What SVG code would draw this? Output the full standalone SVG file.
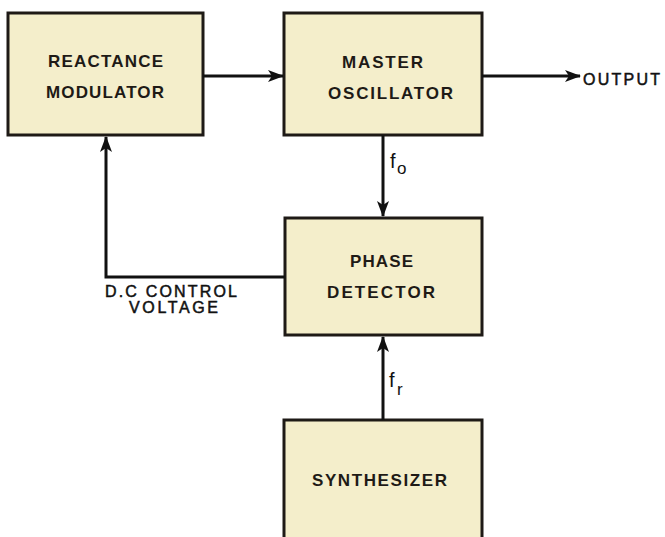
<svg xmlns="http://www.w3.org/2000/svg" width="665" height="537" viewBox="0 0 665 537">
<defs>
<style>
.box{fill:#f4eecb;stroke:#1e1a16;stroke-width:3}
.lbl{font-family:"Liberation Sans",Arial,sans-serif;font-weight:bold;font-size:17px;fill:#1e1a16}
.cap{font-family:"Liberation Sans",Arial,sans-serif;font-size:16px;fill:#111;stroke:#111;stroke-width:0.5}
.w{stroke:#111;stroke-width:3;fill:none}
.sub{font-family:"Liberation Sans",Arial,sans-serif;fill:#111}
</style>
<marker id="ah" viewBox="0 0 16 12" refX="15" refY="6" markerWidth="16" markerHeight="12" markerUnits="userSpaceOnUse" orient="auto">
<path d="M0,0 L16,6 L0,12 L4,6 Z" fill="#111"/>
</marker>
</defs>
<rect width="665" height="537" fill="#ffffff"/>
<g id="reactance-modulator">
<rect class="box" x="8" y="13" width="195" height="122"/>
<text class="lbl" x="48" y="67" textLength="115" lengthAdjust="spacing">REACTANCE</text>
<text class="lbl" x="46" y="98" textLength="118" lengthAdjust="spacing">MODULATOR</text>
</g>
<g id="master-oscillator">
<rect class="box" x="284" y="13" width="198" height="122"/>
<text class="lbl" x="342" y="68" textLength="81" lengthAdjust="spacing">MASTER</text>
<text class="lbl" x="328" y="99" textLength="125" lengthAdjust="spacing">OSCILLATOR</text>
</g>
<g id="phase-detector">
<rect class="box" x="285" y="218" width="197" height="117"/>
<text class="lbl" x="350" y="267" textLength="63" lengthAdjust="spacing">PHASE</text>
<text class="lbl" x="327" y="298" textLength="108" lengthAdjust="spacing">DETECTOR</text>
</g>
<g id="synthesizer">
<rect class="box" x="284" y="420" width="198" height="130"/>
<text class="lbl" x="312" y="486" textLength="135" lengthAdjust="spacing">SYNTHESIZER</text>
</g>
<g id="connectors">
<line class="w" x1="203" y1="76" x2="283" y2="76" marker-end="url(#ah)"/>
<line class="w" x1="482" y1="76" x2="580" y2="76" marker-end="url(#ah)"/>
<line class="w" x1="383" y1="135" x2="383" y2="216" marker-end="url(#ah)"/>
<line class="w" x1="383" y1="420" x2="383" y2="337" marker-end="url(#ah)"/>
<polyline class="w" points="285,277 106,277 106,137" marker-end="url(#ah)"/>
<text class="cap" x="583" y="85" textLength="77" lengthAdjust="spacing">OUTPUT</text>
<text class="cap" x="105" y="297" textLength="132" lengthAdjust="spacing">D.C CONTROL</text>
<text class="cap" x="129" y="313" textLength="89" lengthAdjust="spacing">VOLTAGE</text>
<text class="sub" x="390" y="168" font-size="20">f</text>
<text class="sub" x="397" y="174" font-size="17">o</text>
<text class="sub" x="389" y="387" font-size="20">f</text>
<text class="sub" x="397" y="395" font-size="17">r</text>
</g>
</svg>
